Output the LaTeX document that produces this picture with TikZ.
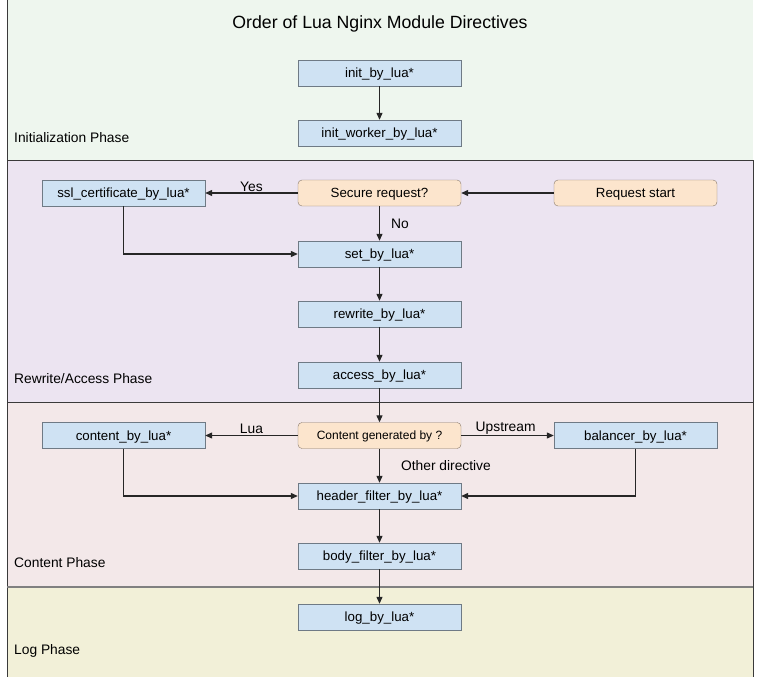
\documentclass[tikz,border=0pt]{standalone}
\usepackage{fontspec}
\setmainfont{Liberation Sans}
\usetikzlibrary{arrows.meta}
\definecolor{pgreen}{HTML}{EEF6EE}
\definecolor{ppurple}{HTML}{ECE4F1}
\definecolor{ppink}{HTML}{F3E8E9}
\definecolor{pyellow}{HTML}{F2F0D8}
\definecolor{bblue}{HTML}{CFE2F3}
\definecolor{borange}{HTML}{FCE5CD}
\definecolor{bline}{HTML}{6F7A85}
\definecolor{oline}{HTML}{8A7A6A}
\definecolor{frame}{HTML}{3A3A3A}
\tikzset{
  every node/.style={font=\fontsize{13.3}{15}\selectfont},
  dirbox/.style={draw=bline, fill=bblue, minimum width=163pt, minimum height=26pt, inner sep=0pt, text height=9.5pt, text depth=0pt},
  decbox/.style={draw=oline, fill=borange, rounded corners=4pt, minimum width=163pt, minimum height=26pt, inner sep=0pt, text height=9.5pt, text depth=0pt},
  flow/.style={draw=black!85, line width=1.2pt, -{Triangle[length=7pt,width=6pt]}},
  elabel/.style={inner sep=1pt, font=\fontsize{13.8}{15}\selectfont},
  phase/.style={anchor=west, inner sep=0pt, font=\fontsize{13.8}{15}\selectfont},
}
\begin{document}
\begin{tikzpicture}[x=1pt,y=-1pt]
\useasboundingbox (0,0) rectangle (757,677);
% panels
\fill[pgreen] (7,0) rectangle (753,160);
\fill[ppurple] (7,160) rectangle (753,402);
\fill[ppink] (7,402) rectangle (753,587);
\fill[pyellow] (7,587) rectangle (753,677);
\draw[frame, line width=0.8pt] (7,0) -- (7,677);
\draw[frame, line width=0.8pt] (753,160) -- (753,677);
\draw[frame, line width=0.8pt] (7,160) -- (753,160);
\draw[frame, line width=0.8pt] (7,402) -- (753,402);
\draw[gray, line width=1.2pt] (7,587) -- (753,587);
% title
\node (title) at (380,24) {\fontsize{17.7}{20}\selectfont Order of Lua Nginx Module Directives};
% phase labels
\node[phase] (ph1) at (14,138) {Initialization Phase};
\node[phase] (ph2) at (14,379) {Rewrite/Access Phase};
\node[phase] (ph3) at (14,563) {Content Phase};
\node[phase] (ph4) at (14,651) {Log Phase};
% nodes
\node[dirbox] (init) at (379.5,73) {init\_by\_lua*};
\node[dirbox] (initw) at (379.5,133) {init\_worker\_by\_lua*};
\node[dirbox] (ssl) at (123.5,193) {ssl\_certificate\_by\_lua*};
\node[decbox] (secure) at (379.5,193) {Secure request?};
\node[decbox] (start) at (635.5,193) {Request start};
\node[dirbox] (set) at (379.5,254) {set\_by\_lua*};
\node[dirbox] (rewrite) at (379.5,314) {rewrite\_by\_lua*};
\node[dirbox] (access) at (379.5,375) {access\_by\_lua*};
\node[decbox, text height=8.5pt] (content) at (379.5,435.5) {\fontsize{12}{13}\selectfont Content generated by ?};
\node[dirbox] (contentlua) at (123.5,435.5) {content\_by\_lua*};
\node[dirbox] (balancer) at (635.5,435.5) {balancer\_by\_lua*};
\node[dirbox] (header) at (379.5,496) {header\_filter\_by\_lua*};
\node[dirbox] (body) at (379.5,556) {body\_filter\_by\_lua*};
\node[dirbox] (log) at (379.5,617) {log\_by\_lua*};
% connectors
\draw[flow] (init) -- (initw);
\draw[flow] (start) -- (secure);
\draw[flow] (secure) -- node[elabel, above, pos=0.5] {Yes} (ssl);
\draw[flow] (secure) -- node[elabel, anchor=west, xshift=10pt, pos=0.5] {No} (set);
\draw[flow] (ssl.south) |- (set.west);
\draw[flow] (set) -- (rewrite);
\draw[flow] (rewrite) -- (access);
\draw[flow] (access) -- (content);
\draw[flow] (content) -- node[elabel, above, pos=0.5] {Lua} (contentlua);
\draw[flow] (content) -- node[elabel, above, pos=0.48] {Upstream} (balancer);
\draw[flow] (content) -- node[elabel, anchor=west, xshift=20pt, pos=0.5] {Other directive} (header);
\draw[flow] (contentlua.south) |- (header.west);
\draw[flow] (balancer.south) |- (header.east);
\draw[flow] (header) -- (body);
\draw[flow] (body) -- (log);
\end{tikzpicture}
\end{document}
